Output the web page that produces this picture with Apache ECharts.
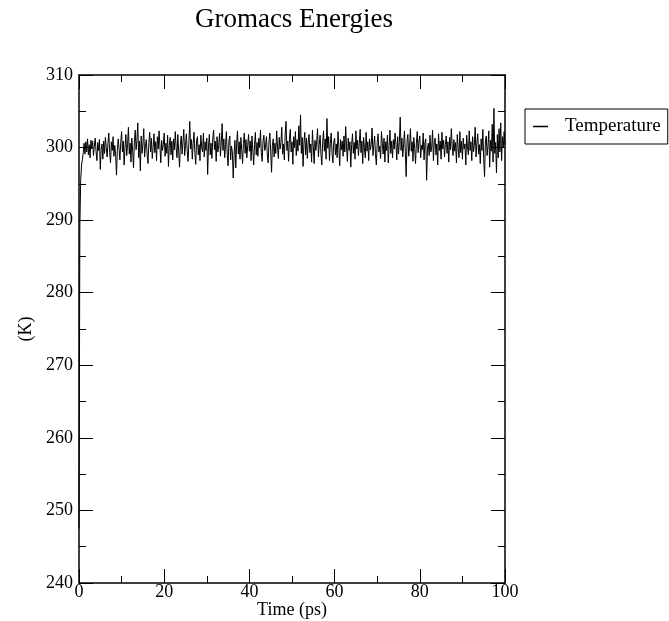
<!DOCTYPE html>
<html>
<head>
<meta charset="utf-8">
<script src="https://cdn.jsdelivr.net/npm/echarts@6/dist/echarts.min.js"></script>
<style>html,body{margin:0;padding:0;background:#fff}#c{width:669px;height:621px}</style>
</head>
<body>
<div id="c"></div>
<script>
// sampling step of the time axis (ps)
const timeStep = 0.2;
// Temperature (K), one value every 0.2 ps from 0 to 100 ps
const temperature = [
247.5, 289.0, 295.6, 297.6, 298.4, 299.3, 300.6, 299.1, 300.8, 299.4,
301.2, 299.0, 300.4, 298.6, 301.0, 299.8, 300.9, 298.9, 300.2, 301.3,
299.5, 298.2, 300.7, 299.6, 301.1, 297.0, 299.8, 300.5, 298.4, 300.9,
299.2, 301.4, 300.0, 298.7, 300.6, 302.0, 299.3, 297.9, 300.8, 299.6,
301.5, 298.8, 300.3, 299.0, 296.2, 299.6, 301.2, 299.9, 298.3, 300.7,
302.2, 299.4, 300.9, 297.6, 300.1, 301.8, 298.9, 300.4, 302.8, 299.1,
300.6, 298.0, 301.3, 299.5, 297.2, 300.8, 302.4, 299.7, 301.0, 303.4,
298.6, 300.9, 296.8, 301.6, 299.2, 300.5, 302.6, 298.7, 300.2, 301.1,
299.0, 297.8, 300.7, 302.1, 299.4, 301.3, 298.5, 300.0, 301.9, 299.3,
300.8, 298.2, 301.5, 299.8, 302.3, 300.1, 297.9, 301.0, 299.6, 300.4,
302.0, 298.8, 300.6, 299.2, 301.7, 297.4, 300.3, 301.4, 299.0, 300.9,
298.3, 301.2, 299.7, 302.2, 300.0, 298.6, 301.8, 299.4, 297.3, 300.5,
301.6, 299.1, 300.8, 302.5, 298.9, 300.3, 301.9, 299.5, 298.1, 300.7,
303.6, 299.8, 301.1, 298.4, 300.6, 302.1, 299.3, 297.7, 300.9, 301.5,
299.0, 300.4, 298.2, 301.7, 300.1, 299.4, 302.0, 298.7, 300.8, 299.6,
301.3, 296.3, 300.2, 301.8, 299.0, 300.6, 298.5, 301.2, 302.4, 299.7,
300.9, 298.1, 301.5, 299.4, 300.3, 302.0, 298.8, 300.7, 303.3, 299.6,
301.2, 298.6, 300.4, 302.2, 299.0, 297.5, 300.9, 301.6, 298.3, 300.2,
299.4, 295.8, 298.9, 301.0, 297.2, 300.5, 302.3, 299.1, 300.8, 298.4,
301.4, 299.7, 297.8, 300.6, 302.0, 299.2, 301.1, 298.6, 300.3, 301.8,
299.5, 300.9, 298.2, 301.6, 299.8, 297.6, 300.4, 302.1, 299.0, 300.7,
298.8, 301.3, 300.0, 302.4, 299.3, 298.1, 300.9, 301.7, 299.6, 300.2,
301.5, 299.0, 297.9, 300.8, 302.0, 299.4, 296.6, 300.3, 301.2, 298.7,
300.6, 299.2, 302.3, 300.1, 298.5, 301.4, 299.8, 300.7, 302.8, 299.1,
300.5, 298.3, 301.9, 303.6, 299.6, 300.9, 298.1, 301.2, 302.5, 299.4,
300.8, 297.7, 301.5, 300.0, 302.2, 298.9, 301.1, 299.5, 303.0, 300.3,
304.5, 299.2, 301.4, 297.4, 300.6, 302.1, 299.0, 301.3, 298.5, 300.7,
301.8, 299.3, 300.5, 298.0, 302.4, 300.1, 297.8, 301.0, 299.6, 300.9,
302.6, 298.7, 300.4, 301.7, 299.1, 297.6, 300.8, 302.3, 299.5, 301.2,
298.4, 304.0, 299.9, 301.5, 298.2, 300.6, 302.0, 299.3, 297.9, 300.7,
301.3, 299.0, 300.5, 298.6, 302.2, 300.0, 297.5, 301.1, 299.7, 300.9,
298.8, 301.6, 299.4, 302.9, 300.2, 298.1, 301.3, 299.6, 300.8, 297.3,
300.4, 301.9, 299.2, 300.7, 298.4, 302.3, 299.8, 301.0, 298.9, 300.6,
302.5, 299.3, 300.9, 297.8, 301.4, 300.0, 298.6, 302.1, 299.5, 300.8,
298.2, 301.2, 299.7, 300.4, 302.7, 298.9, 300.3, 301.6, 299.0, 297.6,
300.7, 301.9, 299.4, 300.2, 298.5, 302.2, 300.6, 299.1, 301.3, 298.0,
300.8, 299.6, 301.7, 297.9, 300.3, 302.4, 299.2, 300.9, 298.6, 301.1,
299.8, 302.0, 300.4, 298.3, 301.5, 299.1, 300.7, 304.2, 299.6, 301.3,
298.7, 300.5, 302.3, 299.4, 296.0, 300.9, 301.8, 298.8, 300.2, 302.6,
299.5, 300.8, 298.1, 301.4, 299.9, 297.8, 300.6, 302.2, 299.3, 300.9,
301.6, 298.6, 300.3, 299.7, 302.0, 298.3, 300.7, 301.2, 295.5, 299.8,
300.6, 298.9, 301.7, 299.4, 300.1, 302.4, 298.2, 300.8, 301.3, 299.0,
300.5, 297.6, 301.9, 299.6, 300.9, 298.4, 302.1, 299.8, 301.0, 298.7,
300.4, 301.6, 299.2, 300.8, 298.0, 301.4, 299.7, 302.6, 300.2, 298.9,
301.1, 299.5, 300.7, 297.9, 301.8, 300.0, 298.6, 302.2, 299.3, 300.9,
298.4, 301.3, 299.8, 300.5, 297.6, 301.7, 300.1, 299.0, 302.3, 299.6,
300.8, 298.2, 301.5, 299.4, 300.3, 302.8, 298.7, 300.6, 301.9, 299.1,
300.4, 297.8, 301.2, 299.6, 302.5, 298.5, 296.0, 300.9, 301.6, 298.9,
300.2, 302.3, 297.3, 301.0, 299.5, 303.2, 298.0, 305.4, 299.2, 300.7,
296.5, 301.8, 298.6, 302.6, 299.4, 303.4, 298.2, 301.5, 300.0, 302.2,
300.4
];
const titleText = "Gromacs Energies";
const xName = "Time (ps)";
const yName = "(K)";
const seriesName = "Temperature";
const xTicks = [0, 100, 20];   // min, max, interval
const yTicks = [240, 310, 10]; // min, max, interval

const pts = temperature.map((v, i) => [+(i * timeStep).toFixed(2), v]);
const font = "Liberation Serif, Times New Roman, serif";

function axisCommon() {
  return {
    axisLine: { show: true, onZero: false, lineStyle: { color: '#000', width: 1.5 } },
    axisTick: { show: true, inside: true, length: 14, lineStyle: { color: '#000', width: 1 } },
    minorTick: { show: true, splitNumber: 2, length: 7, lineStyle: { color: '#000', width: 1 } },
    splitLine: { show: false },
    minorSplitLine: { show: false }
  };
}

const chart = echarts.init(document.getElementById('c'), null, { renderer: 'canvas' });
chart.setOption({
  animation: false,
  backgroundColor: '#fff',
  title: {
    text: titleText, left: 289, top: 1, textAlign: 'center',
    textStyle: { fontFamily: font, fontSize: 27, fontWeight: 'normal', color: '#000' }
  },
  legend: {
    left: 525, top: 109,
    data: [seriesName],
    borderColor: '#000', borderWidth: 1, borderRadius: 0,
    padding: [8, 7, 8, 8],
    itemWidth: 15, itemHeight: 1.5,
    icon: 'rect',
    textStyle: { fontFamily: font, fontSize: 19, color: '#000', padding: [0, 0, 0, 12] }
  },
  grid: { left: 79, top: 75, width: 426, height: 508, show: false, outerBoundsMode: 'none', containLabel: false },
  xAxis: [
    Object.assign(axisCommon(), {
      type: 'value', min: xTicks[0], max: xTicks[1], interval: xTicks[2],
      position: 'bottom',
      name: xName, nameLocation: 'middle', nameGap: 18, nameMoveOverlap: false,
      nameTextStyle: { fontFamily: font, fontSize: 18, color: '#000' },
      axisLabel: { fontFamily: font, fontSize: 18, color: '#000', margin: 0 }
    }),
    Object.assign(axisCommon(), {
      type: 'value', min: xTicks[0], max: xTicks[1], interval: xTicks[2],
      position: 'top', axisLabel: { show: false }
    })
  ],
  yAxis: [
    Object.assign(axisCommon(), {
      type: 'value', min: yTicks[0], max: yTicks[1], interval: yTicks[2],
      position: 'left',
      name: yName, nameLocation: 'middle', nameGap: 44, nameRotate: 90, nameMoveOverlap: false,
      nameTextStyle: { fontFamily: font, fontSize: 18, color: '#000' },
      axisLabel: { fontFamily: font, fontSize: 18, color: '#000', margin: 6 }
    }),
    Object.assign(axisCommon(), {
      type: 'value', min: yTicks[0], max: yTicks[1], interval: yTicks[2],
      position: 'right', axisLabel: { show: false }
    })
  ],
  series: [{
    name: seriesName, type: 'line', data: pts,
    xAxisIndex: 0, yAxisIndex: 0,
    showSymbol: false, symbol: 'none', sampling: null,
    lineStyle: { color: '#000', width: 1 },
    itemStyle: { color: '#000' }
  }]
});
</script>
</body>
</html>
